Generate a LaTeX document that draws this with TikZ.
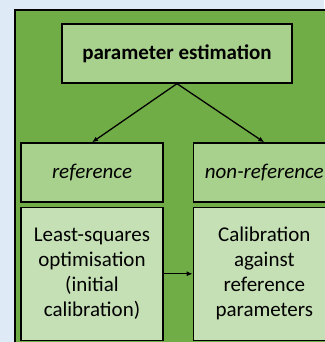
\documentclass[tikz,border=0pt]{standalone}
\usepackage{fontspec}
\setmainfont{Carlito}
\usetikzlibrary{arrows.meta,positioning}
\definecolor{pagebg}{HTML}{DEEAF6}
\definecolor{darkgreen}{HTML}{70AD47}
\definecolor{midgreen}{HTML}{A9D18E}
\definecolor{lightgreen}{HTML}{C5E0B4}

\begin{document}
\begin{tikzpicture}[x=1pt,y=-1pt,
  headbox/.style={draw,line width=1.3pt,fill=midgreen,text centered,inner sep=0pt,
    minimum width=142pt,minimum height=59pt},
  stepbox/.style={draw,line width=1.3pt,fill=lightgreen,text centered,inner sep=0pt,
    text width=130pt,minimum width=142pt,minimum height=133pt,
    font=\fontsize{21}{25}\selectfont},
  link/.style={line width=1.3pt,-{Latex[length=6pt,width=5pt]}}]

  % Background
  \fill[pagebg] (0,0) rectangle (324,342);
  \useasboundingbox (0,0) rectangle (324,342);
  \draw[line width=1.3pt,fill=darkgreen] (15,10) rectangle (345,360);

  % Top
  \path (177,53.5) node[headbox,minimum width=230pt,font=\fontsize{21}{25}\selectfont\bfseries] (estim) {parameter estimation};

  % Branches
  \path (92,172.5) node[headbox,font=\fontsize{21}{25}\selectfont\itshape] (ref) {reference};
  \path (ref.east) +(29,0) node[anchor=west,headbox,font=\fontsize{21}{25}\selectfont\itshape] (nonref) {non-reference};

  % Steps
  \path (ref.south) +(0,4) node[anchor=north,stepbox] (lsq) {Least-squares\\optimisation\\(initial\\calibration)};
  \path (nonref.south) +(0,4) node[anchor=north,stepbox] (calib) {Calibration\\against\\reference\\parameters};

  % Arrows
  \draw[link] (estim.south) -- (ref.north);
  \draw[link] (estim.south) -- (nonref.north);
  \draw[link] (lsq) -- (calib);

\end{tikzpicture}
\end{document}
